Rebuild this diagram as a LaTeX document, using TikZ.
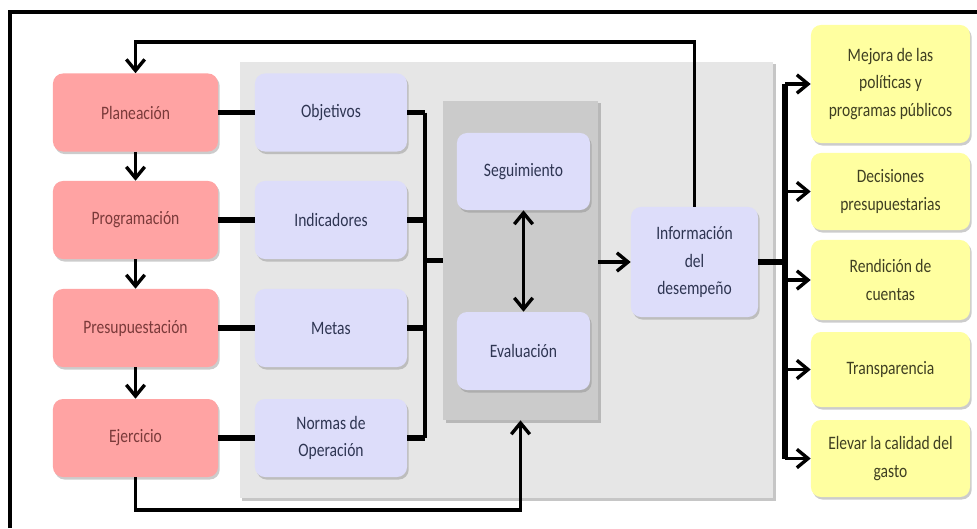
\documentclass[tikz,border=0pt]{standalone}
\usepackage{fontspec}
\setmainfont{Carlito}[FakeStretch=0.82]
\usetikzlibrary{arrows.meta,shadows}
\definecolor{pinkbox}{HTML}{FFA3A3}
\definecolor{pinktext}{HTML}{7A3A3A}
\definecolor{bluebox}{HTML}{DDDDFA}
\definecolor{bluetext}{HTML}{2E3552}
\definecolor{yellowbox}{HTML}{FFFFA0}
\definecolor{yellowtext}{HTML}{3F3F22}
\definecolor{panelgrey}{HTML}{E6E6E6}
\definecolor{coregrey}{HTML}{CBCBCB}

\begin{document}
\begin{tikzpicture}[
    x=0.025cm, y=-0.025cm,
    box/.style={rounded corners=0.25cm, align=center, inner sep=2pt,
        font=\fontsize{13.5}{19.5}\selectfont,
        drop shadow={opacity=0.4, shadow xshift=1.2pt, shadow yshift=-1.8pt}},
    stagebox/.style={box, fill=pinkbox, text=pinktext, minimum width=4.125cm, minimum height=1.95cm},
    itembox/.style={box, fill=bluebox, text=bluetext, minimum width=3.8cm, minimum height=1.95cm},
    goalbox/.style={box, fill=yellowbox, text=yellowtext, minimum width=3.975cm},
    panel/.style={inner sep=0pt, drop shadow={opacity=0.45, shadow xshift=1.8pt, shadow yshift=-1.8pt}},
    tip/.style={Straight Barb[length=2.8mm, width=4.6mm, line width=2.4pt]},
    arr/.style={line width=2.4pt, -{Straight Barb[length=2.8mm, width=4.6mm, line width=2.4pt]}},
    dblarr/.style={line width=2.4pt, {Straight Barb[length=2.8mm, width=4.6mm, line width=2.4pt]}-{Straight Barb[length=2.8mm, width=4.6mm, line width=2.4pt]}},
    bus/.style={line width=4pt},
    link/.style={line width=2.6pt}
  ]
    \useasboundingbox (0,0) rectangle (977,528);
    \draw [line width=3pt] (10,528) -- (10,12) -- (977,12);

    \node[panel, fill=panelgrey, minimum width=13.325cm, minimum height=10.9cm] (frame) at (506.5,280) {};
    \node[panel, fill=coregrey, minimum width=3.875cm, minimum height=7.975cm] (core) at (520.5,260.5) {};

    \node[stagebox] (plan) at (135.5,112.5) {Planeación};
    \node[stagebox] (prog) at (135.5,220) {Programación};
    \node[stagebox] (pres) at (135.5,328) {Presupuestación};
    \node[stagebox] (ejer) at (135.5,438) {Ejercicio};

    \node[itembox] (obj) at (331,112.5) {Objetivos};
    \node[itembox] (ind) at (331,220) {Indicadores};
    \node[itembox] (met) at (331,328) {Metas};
    \node[itembox] (norm) at (331,438) {Normas de\\Operación};

    \node[itembox, minimum width=3.325cm, minimum height=1.925cm] (seg) at (523.5,171.5) {Seguimiento};
    \node[itembox, minimum width=3.325cm, minimum height=1.95cm] (eval) at (523.5,351) {Evaluación};
    \node[itembox, minimum width=3.175cm, minimum height=2.75cm] (info) at (694.5,262) {Información\\del\\desempeño};

    \node[goalbox, minimum height=2.95cm] (mejora) at (890.5,84) {Mejora de las\\políticas y\\programas públicos};
    \node[goalbox, minimum height=1.925cm] (decis) at (890.5,191.5) {Decisiones\\presupuestarias};
    \node[goalbox, minimum height=2cm] (rend) at (890.5,280) {Rendición de\\cuentas};
    \node[goalbox, minimum height=1.875cm] (transp) at (890.5,369.5) {Transparencia};
    \node[goalbox, minimum height=1.925cm] (elevar) at (890.5,458.5) {Elevar la calidad del\\gasto};

    \coordinate (topline) at (0,42);
    \coordinate (botline) at (0,510);
    \coordinate (busL) at (425,0);
    \coordinate (busR) at (785,0);

    \draw[arr] (info.north) |- (plan.north |- topline) -- (plan.north);
    \draw[arr] (plan) -- (prog);
    \draw[arr] (prog) -- (pres);
    \draw[arr] (pres) -- (ejer);
    \draw[arr] (ejer.south) |- (core.south |- botline) -- (core.south);

    \foreach \s/\t in {plan/obj, prog/ind, pres/met, ejer/norm}
        \draw[bus] (\s.east) -- (\t.west);
    \foreach \t in {obj, ind, met, norm}
        \draw[bus] (\t.east) -- (\t.east -| busL);
    \draw[link] (obj.east -| busL) -- (norm.east -| busL);
    \draw[bus] (busL |- core.west) -- (core.west);

    \draw[dblarr] (seg) -- (eval);
    \draw[arr] (core.east |- info.west) -- (info.west);

    \draw[bus] (info.east) -- (info.east -| busR);
    \draw[bus] (busR |- mejora.west) -- (busR |- elevar.west);
    \foreach \t in {mejora, decis, rend, transp, elevar}
        \draw[arr] (busR |- \t.west) -- (\t.west);
\end{tikzpicture}
\end{document}
